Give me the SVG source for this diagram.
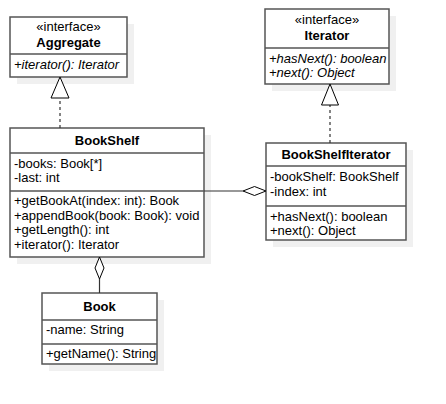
<svg xmlns="http://www.w3.org/2000/svg" width="446" height="404" viewBox="0 0 446 404">
<style>
text{font-family:"Liberation Sans",Arial,sans-serif;font-size:13px;fill:#000}
.t{font-weight:bold;text-anchor:middle}
.s{text-anchor:middle}
.i{font-style:italic}
.box{fill:#fff;stroke:#555;stroke-width:1.5}
.sh{fill:#f0f0f0;stroke:none}
.dv{stroke:#555;stroke-width:1.5;fill:none}
.ln{stroke:#333;stroke-width:1.2;fill:none}
.dash{stroke-dasharray:3 3}
.head{fill:#fff;stroke:#000;stroke-width:1}
</style>
<rect width="446" height="404" fill="#fff"/>
<g id="Aggregate">
<rect class="sh" x="17" y="24" width="117" height="60"/>
<rect class="box" x="10" y="17" width="117" height="60"/>
<line class="dv" x1="10" y1="54" x2="127" y2="54"/>
<text class="s" x="68.5" y="30.5">«interface»</text>
<text class="t" x="68.5" y="46.5">Aggregate</text>
<text class="i" x="14" y="68.5">+iterator(): Iterator</text>
</g>
<g id="Iterator">
<rect class="sh" x="272" y="16" width="124" height="75"/>
<rect class="box" x="265" y="9" width="124" height="75"/>
<line class="dv" x1="265" y1="48" x2="389" y2="48"/>
<text class="s" x="327" y="23.5">«interface»</text>
<text class="t" x="327" y="39.5">Iterator</text>
<text class="i" x="269" y="62.5">+hasNext(): boolean</text>
<text class="i" x="269" y="77">+next(): Object</text>
</g>
<g id="BookShelf">
<rect class="sh" x="17" y="135" width="194" height="129"/>
<rect class="box" x="10" y="128" width="194" height="129"/>
<line class="dv" x1="10" y1="153" x2="204" y2="153"/>
<line class="dv" x1="10" y1="191" x2="204" y2="191"/>
<text class="t" x="107" y="145">BookShelf</text>
<text x="14" y="167.5">-books: Book[*]</text>
<text x="14" y="182">-last: int</text>
<text x="14" y="205">+getBookAt(index: int): Book</text>
<text x="14" y="219.5">+appendBook(book: Book): void</text>
<text x="14" y="234">+getLength(): int</text>
<text x="14" y="248.5">+iterator(): Iterator</text>
</g>
<g id="BookShelfIterator">
<rect class="sh" x="273" y="150" width="140" height="97"/>
<rect class="box" x="266" y="143" width="140" height="97"/>
<line class="dv" x1="266" y1="166" x2="406" y2="166"/>
<line class="dv" x1="266" y1="206" x2="406" y2="206"/>
<text class="t" x="336" y="159">BookShelfIterator</text>
<text x="270" y="181">-bookShelf: BookShelf</text>
<text x="270" y="195.5">-index: int</text>
<text x="270" y="220.5">+hasNext(): boolean</text>
<text x="270" y="235">+next(): Object</text>
</g>
<g id="Book">
<rect class="sh" x="49" y="300" width="115" height="71"/>
<rect class="box" x="42" y="293" width="115" height="71"/>
<line class="dv" x1="42" y1="320" x2="157" y2="320"/>
<line class="dv" x1="42" y1="344" x2="157" y2="344"/>
<text class="t" x="99.5" y="311">Book</text>
<text x="46" y="334">-name: String</text>
<text x="46" y="358">+getName(): String</text>
</g>
<g id="connectors">
<line class="ln dash" x1="60" y1="128" x2="60" y2="98"/>
<polygon class="head" points="60,77 69,98 51,98"/>
<line class="ln dash" x1="330" y1="143" x2="330" y2="105"/>
<polygon class="head" points="330,84 338.5,105 321.5,105"/>
<line class="ln" x1="204" y1="191" x2="243" y2="191"/>
<polygon class="head" points="266,191 254.5,186.5 243,191 254.5,195.5"/>
<line class="ln" x1="99.5" y1="293" x2="99.5" y2="279"/>
<polygon class="head" points="99.5,257 104,268 99.5,279 95,268"/>
</g>
</svg>
